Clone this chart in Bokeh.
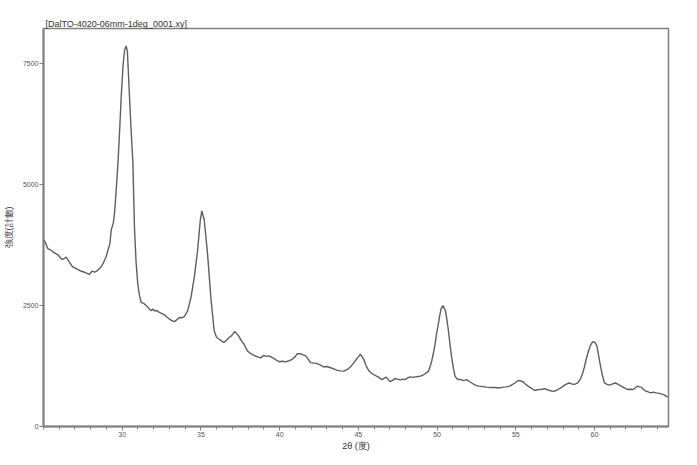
from bokeh.plotting import figure
from bokeh.embed import file_html
from bokeh.resources import INLINE
from bokeh.models import FixedTicker, Range1d

title_text = "[DalTO-4020-06mm-1deg_0001.xy]"
x_label = "2θ (度)"
y_label = "強度(計數)"

two_theta = [
    24.95, 25.02, 25.1, 25.27, 25.45, 25.7, 25.9, 26.05, 26.18, 26.3, 26.44, 26.6, 26.85, 27.1, 27.38, 27.6,
    27.9, 28.1, 28.25, 28.44, 28.65, 28.8, 28.97, 29.1, 29.22, 29.3, 29.43, 29.51, 29.62, 29.73, 29.84, 29.94,
    30.05, 30.15, 30.25, 30.33, 30.46, 30.57, 30.68, 30.78, 30.88, 30.99, 31.1, 31.2, 31.41, 31.63, 31.75, 31.84,
    31.94, 32.04, 32.2, 32.36, 32.5, 32.68, 32.85, 33.1, 33.31, 33.45, 33.63, 33.8, 33.94, 34.16, 34.37, 34.58,
    34.79, 34.96, 35.06, 35.21, 35.42, 35.63, 35.84, 36.0, 36.16, 36.3, 36.47, 36.6, 36.79, 36.95, 37.15, 37.3,
    37.42, 37.6, 37.74, 37.96, 38.15, 38.37, 38.6, 38.8, 39.0, 39.15, 39.32, 39.5, 39.63, 39.8, 39.96, 40.2,
    40.38, 40.6, 40.8, 41.0, 41.12, 41.33, 41.5, 41.65, 41.8, 41.96, 42.2, 42.39, 42.6, 42.8, 43.0, 43.23,
    43.45, 43.65, 43.85, 44.07, 44.3, 44.49, 44.7, 44.87, 45.0, 45.13, 45.34, 45.5, 45.65, 45.8, 45.97, 46.1,
    46.28, 46.5, 46.65, 46.77, 46.9, 47.02, 47.2, 47.34, 47.5, 47.66, 47.8, 47.97, 48.1, 48.29, 48.45, 48.61,
    48.8, 48.92, 49.1, 49.24, 49.45, 49.55, 49.66, 49.77, 49.87, 49.97, 50.08, 50.17, 50.25, 50.38, 50.53, 50.62,
    50.72, 50.82, 50.93, 51.04, 51.14, 51.25, 51.35, 51.5, 51.67, 51.78, 51.88, 52.05, 52.2, 52.4, 52.62, 52.9,
    53.14, 53.4, 53.6, 53.78, 54.0, 54.2, 54.4, 54.62, 54.8, 54.94, 55.1, 55.21, 55.35, 55.46, 55.6, 55.78,
    56.0, 56.2, 56.35, 56.52, 56.7, 56.84, 57.0, 57.15, 57.3, 57.47, 57.6, 57.78, 57.95, 58.1, 58.25, 58.37,
    58.5, 58.63, 58.8, 58.94, 59.1, 59.22, 59.35, 59.47, 59.6, 59.73, 59.85, 59.94, 60.05, 60.15, 60.25, 60.36,
    60.5, 60.63, 60.8, 60.95, 61.15, 61.33, 61.5, 61.69, 61.9, 62.12, 62.3, 62.43, 62.6, 62.74, 62.85, 62.96,
    63.1, 63.27, 63.45, 63.59, 63.75, 63.91, 64.05, 64.22, 64.4, 64.54, 64.65,
]
intensity = [
    3700, 3860, 3820, 3680, 3650, 3590, 3555, 3500, 3450, 3470, 3505, 3420, 3300, 3260, 3215, 3190,
    3145, 3215, 3190, 3230, 3300, 3380, 3505, 3650, 3785, 4060, 4200, 4410, 4900, 5450, 6150, 6840,
    7450, 7780, 7870, 7750, 6840, 6100, 5450, 4100, 3400, 2950, 2700, 2570, 2535, 2465, 2420, 2395,
    2430, 2395, 2400, 2360, 2340, 2310, 2260, 2200, 2170, 2200, 2255, 2250, 2270, 2395, 2670, 3090,
    3645, 4270, 4460, 4270, 3575, 2670, 1980, 1840, 1805, 1770, 1735, 1780, 1840, 1880, 1965, 1910,
    1860, 1760, 1700, 1560, 1510, 1470, 1440, 1420, 1470, 1450, 1460, 1430, 1410, 1370, 1340, 1350,
    1335, 1360, 1390, 1450, 1505, 1505, 1480, 1460, 1400, 1320, 1310, 1300, 1270, 1230, 1240, 1215,
    1190, 1160, 1150, 1145, 1180, 1230, 1310, 1390, 1440, 1495, 1390, 1250, 1160, 1110, 1075, 1050,
    1020, 970, 1000, 1020, 970, 925, 960, 995, 975, 965, 980, 970, 1000, 1025, 1015, 1025,
    1035, 1040, 1060, 1090, 1145, 1230, 1355, 1520, 1700, 1920, 2120, 2300, 2430, 2500, 2395, 2220,
    1980, 1700, 1420, 1200, 1040, 990, 970, 975, 950, 960, 970, 930, 900, 860, 835, 825,
    815, 805, 810, 800, 800, 815, 820, 835, 870, 900, 940, 950, 940, 925, 880, 835,
    790, 745, 760, 765, 770, 785, 760, 745, 735, 730, 750, 785, 820, 855, 880, 900,
    885, 870, 880, 900, 980, 1075, 1220, 1390, 1540, 1665, 1740, 1755, 1730, 1665, 1490, 1285,
    1060, 900, 870, 855, 880, 900, 870, 835, 800, 765, 770, 765, 800, 835, 820, 815,
    770, 730, 710, 695, 710, 695, 690, 675, 660, 625, 615,
]
x_ticks = [30, 35, 40, 45, 50, 55, 60]
y_ticks = [0, 2500, 5000, 7500]

p = figure(frame_width=625, frame_height=398, output_backend="svg", toolbar_location=None,
           x_range=Range1d(25.0, 64.7), y_range=Range1d(0, 8230),
           title=title_text, min_border_left=35, min_border_right=21,
           min_border_top=28, min_border_bottom=0)

p.line(two_theta, intensity, line_color="#5e5e5e", line_width=1.4)

p.title.text_font = "Liberation Sans"
p.title.text_font_size = "9px"
p.title.text_font_style = "normal"
p.title.text_color = "#333333"
p.title.offset = 2
p.title.standoff = 0

p.xgrid.visible = False
p.ygrid.visible = False
p.outline_line_color = "#808080"
p.outline_line_width = 1.5
p.outline_line_alpha = 1.0

for ax in (p.xaxis[0], p.yaxis[0]):
    ax.axis_line_color = "#808080"
    ax.axis_line_width = 2
    ax.major_tick_line_color = "#808080"
    ax.minor_tick_line_color = "#808080"
    ax.major_tick_in = 0
    ax.minor_tick_in = 0
    ax.major_tick_out = 4
    ax.minor_tick_out = 3
    ax.major_label_text_font = "Liberation Sans"
    ax.major_label_text_font_size = "7px"
    ax.major_label_text_color = "#555555"
    ax.axis_label_text_font = "Liberation Sans"
    ax.axis_label_text_font_size = "9px"
    ax.axis_label_text_font_style = "normal"
    ax.axis_label_text_color = "#333333"
    ax.major_label_standoff = 1
    ax.axis_label_standoff = 0

p.yaxis.axis_label_standoff = 6
p.xaxis.axis_label_standoff = 1
p.xaxis.ticker = FixedTicker(ticks=x_ticks, minor_ticks=list(range(25, 65)))
p.yaxis.ticker = FixedTicker(ticks=y_ticks)
p.yaxis.minor_tick_out = 0
p.xaxis.axis_label = x_label
p.yaxis.axis_label = y_label

open("out.html", "w").write(file_html(p, INLINE))
